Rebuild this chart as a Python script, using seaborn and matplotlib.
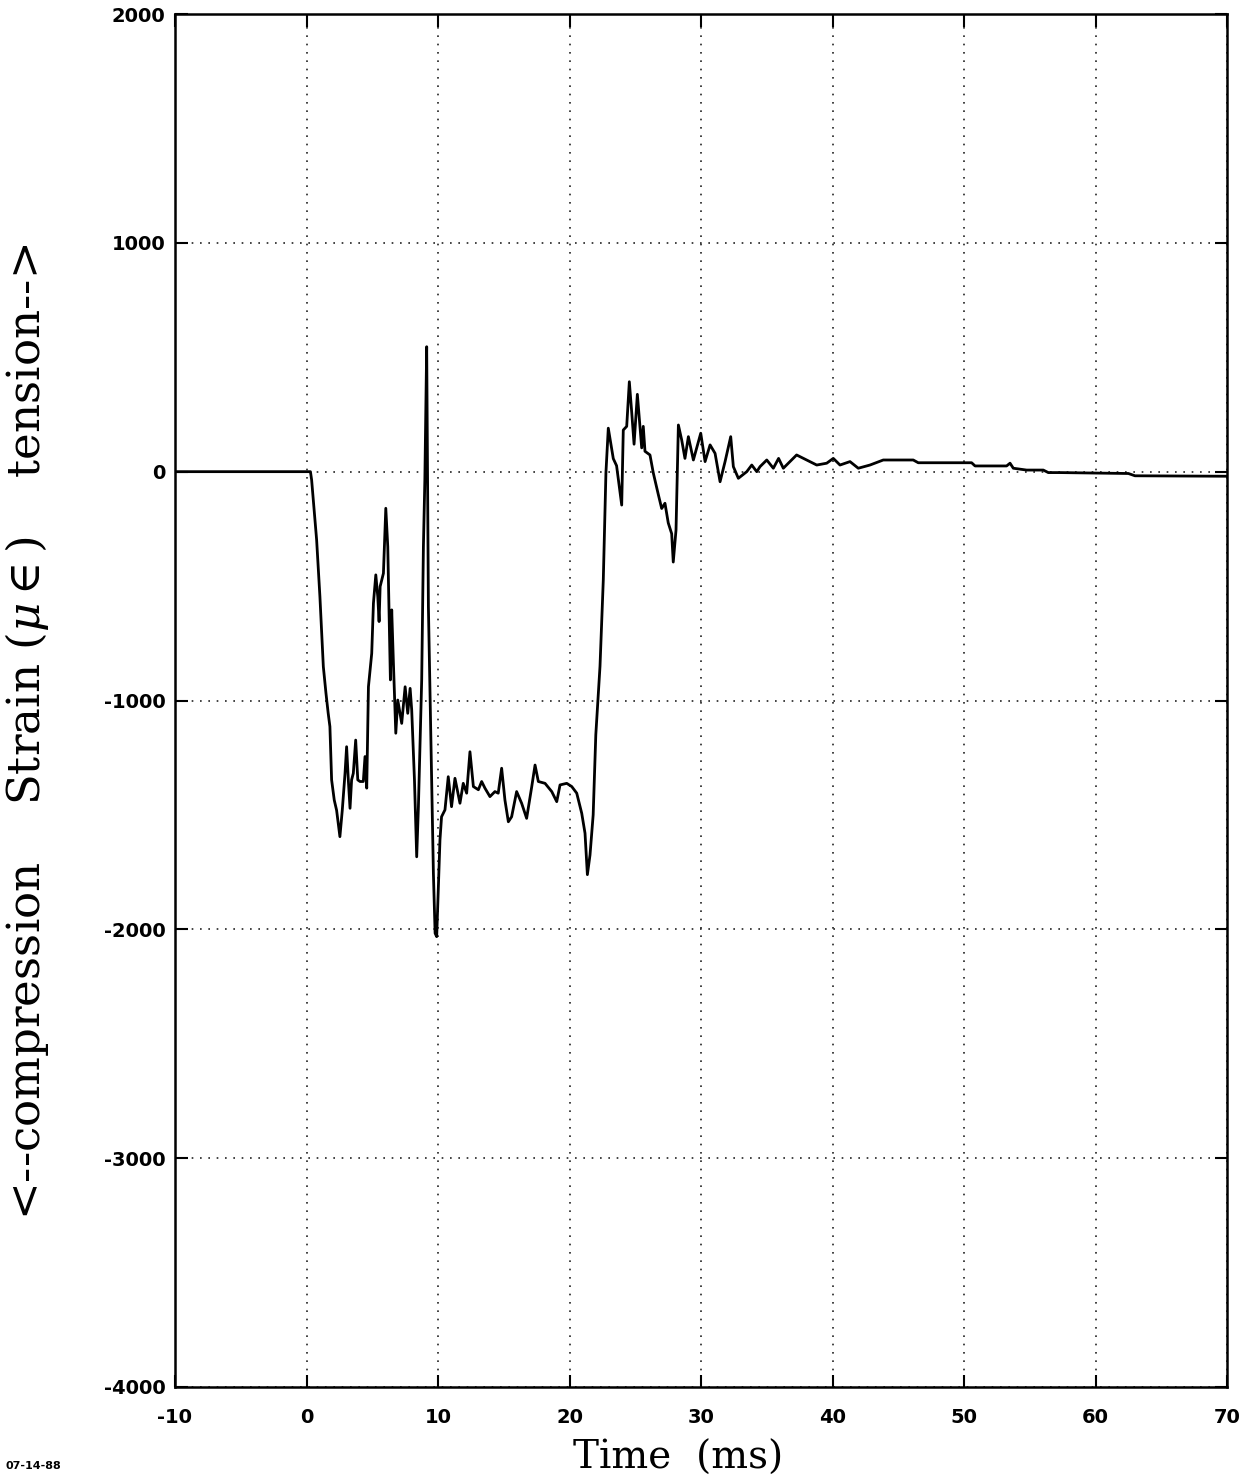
import matplotlib
matplotlib.use("Agg")
import matplotlib.pyplot as plt
import seaborn as sns
import pandas as pd

# ---- data ----
time_ms = [-10, 0, 0.30, 0.39, 0.77, 1.02, 1.28, 1.48, 1.65, 1.78, 1.91, 2.11, 2.29, 2.54,
           2.72, 2.93, 3.05, 3.18, 3.31, 3.43, 3.56, 3.74, 3.90, 4.07, 4.32, 4.45, 4.58,
           4.71, 4.96, 5.09, 5.27, 5.42, 5.52, 5.60, 5.85, 6.03, 6.18, 6.38, 6.48, 6.61,
           6.79, 6.94, 7.24, 7.50, 7.70, 7.88, 8.00, 8.21, 8.38, 8.51, 8.76, 8.89, 9.00,
           9.14, 9.27, 9.65, 9.78, 9.90, 10.15, 10.27, 10.53, 10.78, 11.03, 11.29, 11.67,
           11.92, 12.18, 12.43, 12.69, 13.07, 13.32, 13.57, 13.95, 14.33, 14.58, 14.84,
           15.09, 15.35, 15.60, 15.98, 16.36, 16.74, 17.13, 17.38, 17.63, 18.14, 18.65,
           19.03, 19.28, 19.79, 20.17, 20.55, 20.93, 21.18, 21.36, 21.56, 21.80, 22.00,
           22.32, 22.57, 22.77, 22.95, 23.33, 23.58, 23.97, 24.09, 24.35, 24.55, 24.73,
           24.91, 25.16, 25.49, 25.61, 25.74, 26.12, 26.37, 26.75, 27.01, 27.26, 27.51,
           27.77, 27.89, 28.10, 28.28, 28.53, 28.78, 29.04, 29.42, 29.98, 30.31, 30.69,
           31.07, 31.45, 31.83, 32.26, 32.46, 32.84, 33.48, 33.86, 34.24, 34.49, 35.00,
           35.50, 35.90, 36.26, 37.27, 38.03, 38.80, 39.56, 40.06, 40.57, 41.33, 41.96,
           42.85, 43.86, 46.14, 46.52, 50.58, 50.84, 53.24, 53.50, 53.75, 54.76, 56.03,
           56.41, 57.30, 62.50, 63.00, 70.00]
strain = [0, 0, 0, -36, -298, -546, -852, -968, -1056, -1114, -1347, -1435, -1480, -1595,
          -1480, -1318, -1202, -1347, -1471, -1347, -1318, -1173, -1347, -1354, -1354, -1245, -1383,
          -940, -794, -575, -451, -546, -655, -502, -444, -160, -328, -910, -604, -837,
          -1143, -998, -1100, -940, -1056, -947, -1041, -1347, -1683, -1464, -910, -328, -36,
          546, -590, -1755, -2017, -2032, -1609, -1508, -1478, -1333, -1464, -1340, -1449,
          -1362, -1405, -1224, -1376, -1390, -1354, -1383, -1420, -1398, -1405, -1296,
          -1435, -1530, -1508, -1398, -1449, -1515, -1376, -1282, -1354, -1362, -1398,
          -1442, -1369, -1362, -1376, -1405, -1493, -1580, -1761, -1675, -1500, -1150,
          -850, -473, -5, 190, 57, 26, -146, 182, 198, 393, 260,
          120, 338, 104, 198, 89, 73, -5, -99, -161, -138, -224,
          -271, -395, -255, 204, 139, 58, 153, 51, 168, 44, 117,
          80, -44, 44, 153, 22, -29, 0, 29, 0, 22, 51,
          15, 58, 15, 73, 51, 29, 37, 58, 29, 44, 15,
          29, 51, 51, 39, 39, 25, 25, 37, 15, 7, 7,
          -4, -4, -8, -18, -20]

x_ticks = [-10, 0, 10, 20, 30, 40, 50, 60, 70]
y_ticks = [-4000, -3000, -2000, -1000, 0, 1000, 2000]
x_label = "Time  (ms)"
y_label = "<--compression    Strain ($\\mu\\in$)    tension-->"
date_text = "07-14-88"

df = pd.DataFrame({"t": time_ms, "strain": strain})

sns.set_theme(style="white")
plt.rcParams["axes.unicode_minus"] = False
plt.rcParams["mathtext.fontset"] = "dejavuserif"
plt.rcParams["font.family"] = ["DejaVu Sans"]

fig = plt.figure(figsize=(12.49, 14.80), dpi=100)
ax = fig.add_axes([175 / 1249, 1 - 1387 / 1480, (1227 - 175) / 1249, (1387 - 14) / 1480])

sns.lineplot(data=df, x="t", y="strain", ax=ax, color="black", linewidth=2.0,
             sort=False, estimator=None)

ax.set_xlim(-10, 70)
ax.set_ylim(-4000, 2000)
ax.set_xticks(x_ticks)
ax.set_yticks(y_ticks)
ax.set_xticklabels([str(v) for v in x_ticks])
ax.set_yticklabels([str(v) for v in y_ticks])
ax.set_xlabel("")
ax.set_ylabel("")

for lab in ax.get_xticklabels() + ax.get_yticklabels():
    lab.set_fontweight("bold")
    lab.set_fontsize(14)

ax.tick_params(axis="x", direction="in", length=9, width=1.5, pad=15,
               top=True, bottom=True, colors="black")
ax.tick_params(axis="y", direction="in", length=9, width=1.5, pad=7,
               left=True, right=True, colors="black")

ax.grid(True, color="#222222", linestyle=(0, (1, 4)), linewidth=1.2)
for s in ax.spines.values():
    s.set_color("black")
    s.set_linewidth(1.8)
    s.set_visible(True)

fig.text(27 / 1249, 1 - 732 / 1480, y_label, rotation=90, ha="center", va="center",
         fontsize=32.5, family="DejaVu Serif", color="black")
fig.text(678 / 1249, 1 - 1469 / 1480, x_label, ha="center", va="baseline",
         fontsize=28, family="DejaVu Serif", color="black")
fig.text(5 / 1249, 1 - 1466 / 1480, date_text, ha="left", va="center",
         fontsize=8, fontweight="bold", color="black")

fig.savefig("out.png", dpi=100, facecolor="white")
